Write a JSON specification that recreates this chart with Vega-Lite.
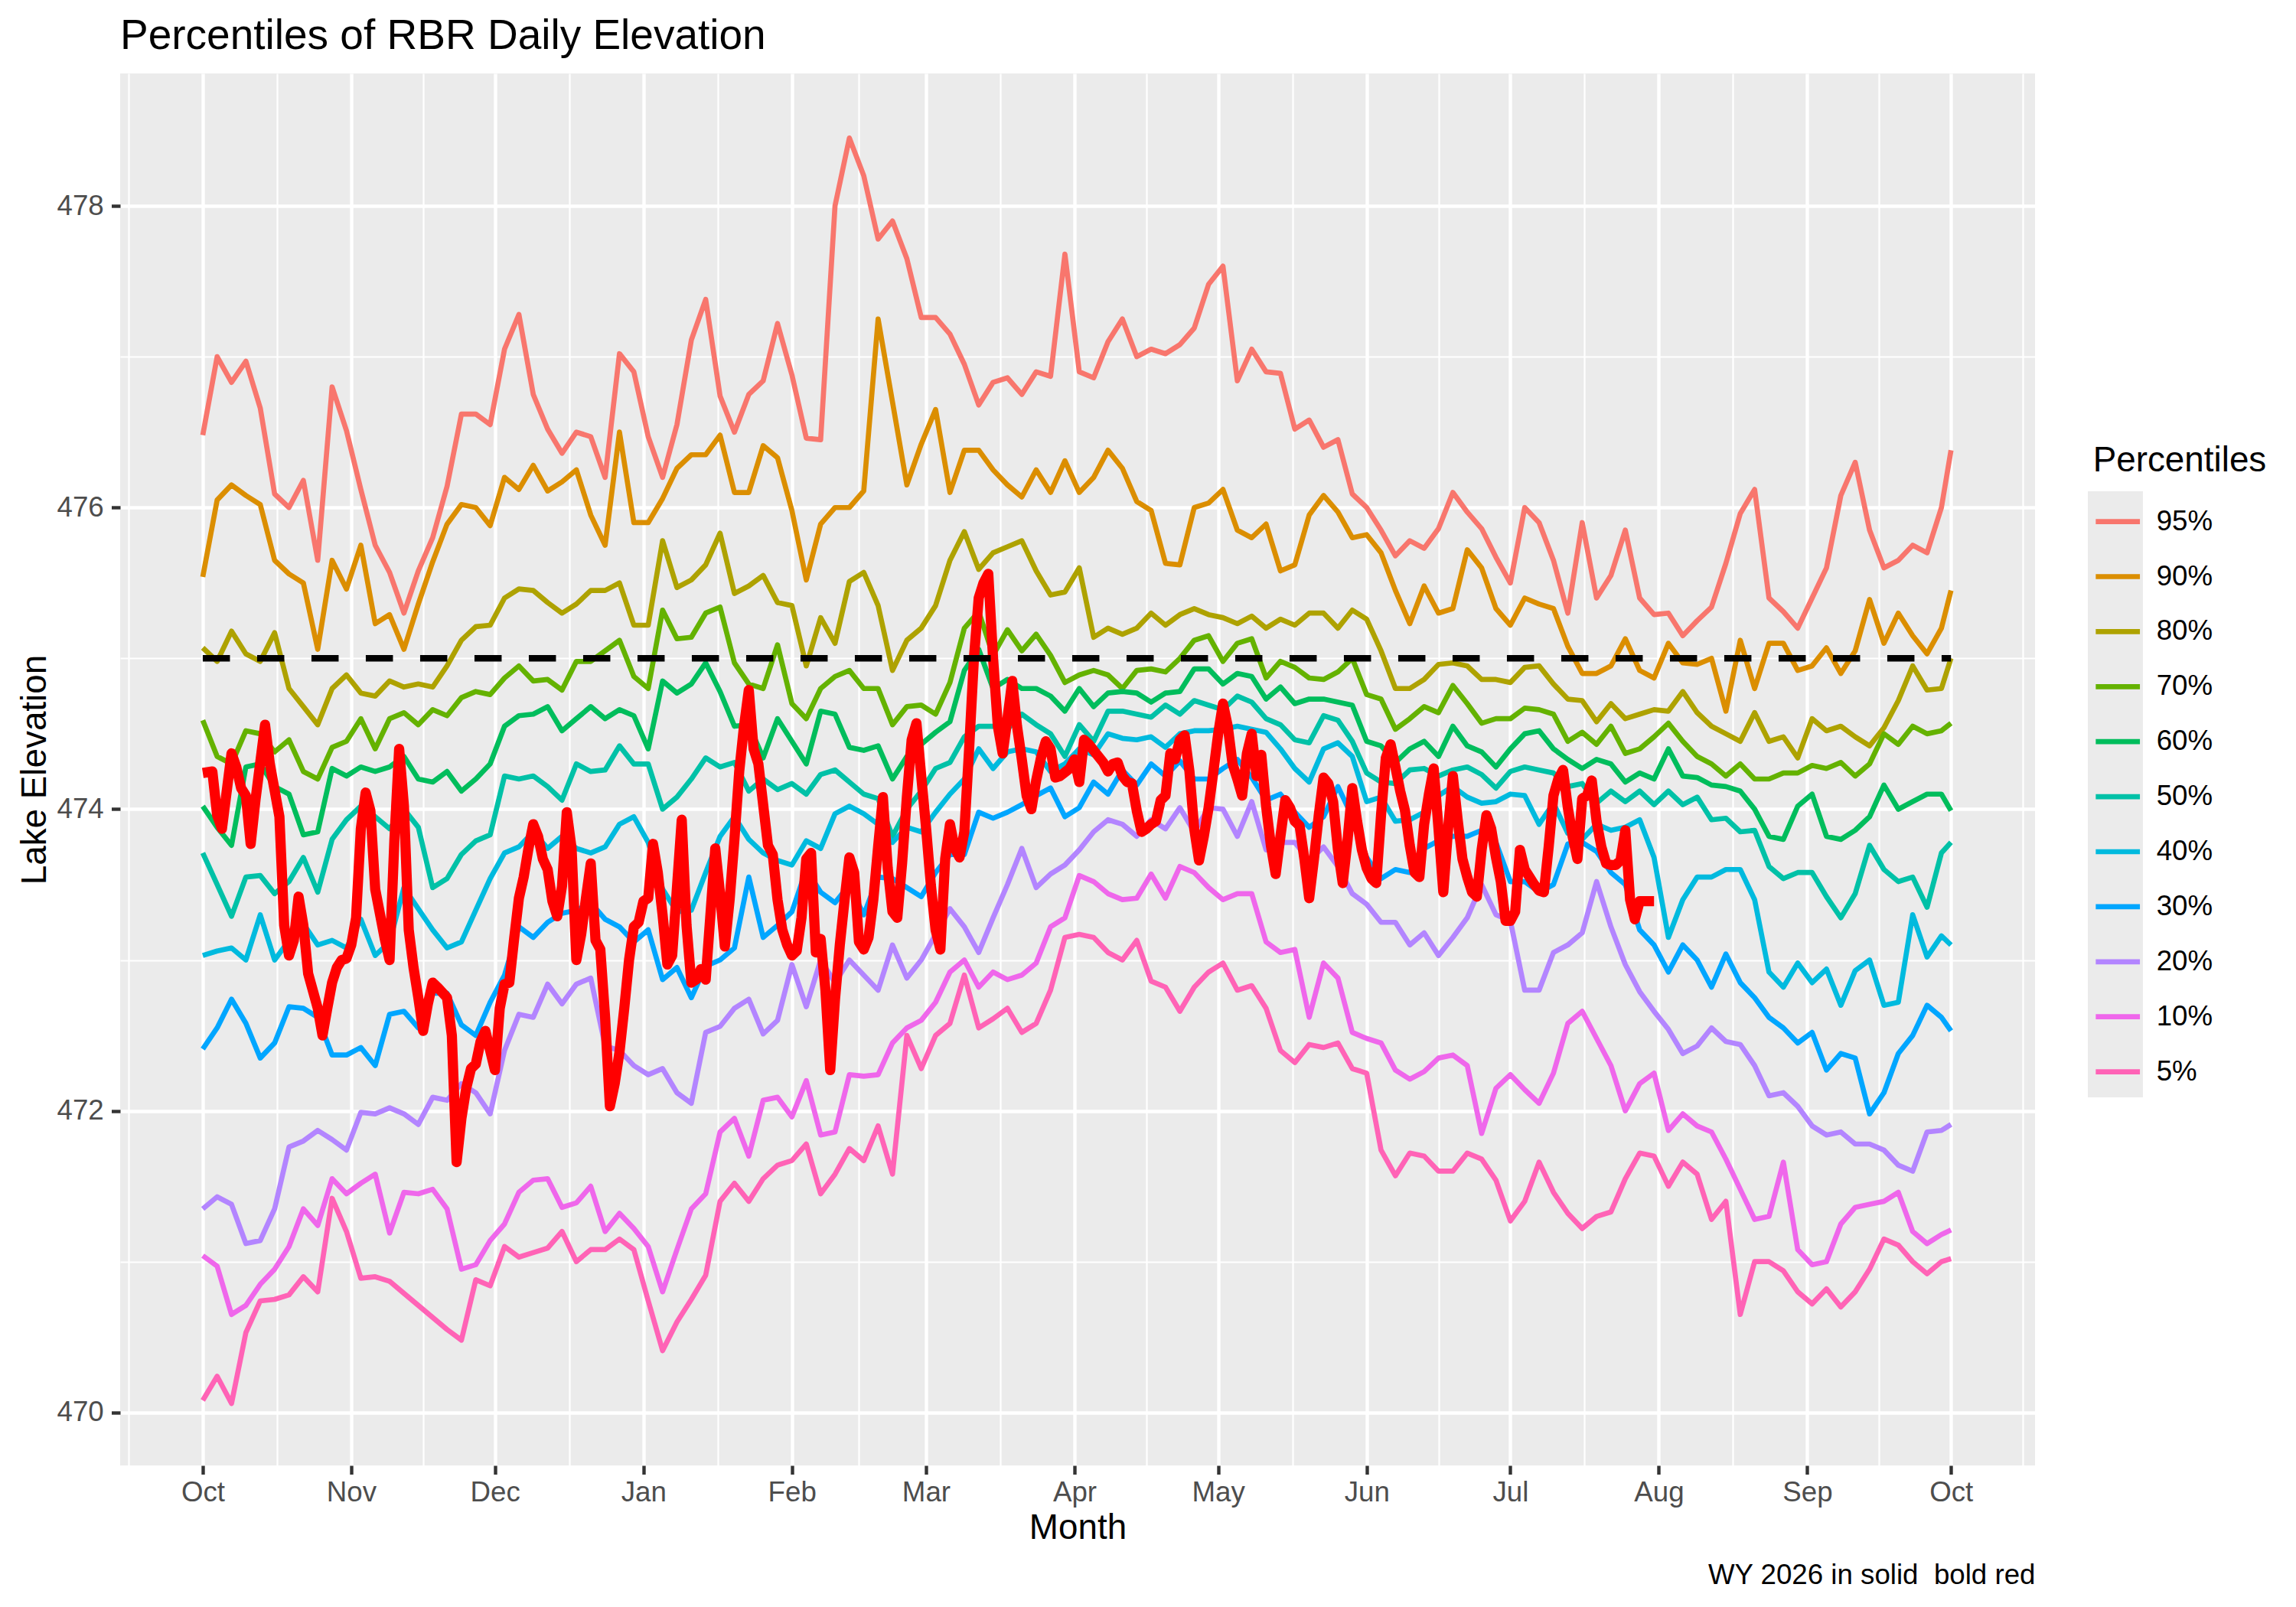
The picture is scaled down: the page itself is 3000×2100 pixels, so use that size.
{
"$schema":"https://vega.github.io/schema/vega-lite/v6.json",
"width":2502,"height":1819,
"autosize":{"type":"none"},
"padding":{"left":157,"top":96,"right":341,"bottom":185},
"background":"#FFFFFF",
"config":{
"font":"Liberation Sans",
"view":{"fill":"#EBEBEB","stroke":null},
"axis":{"domain":false,"labelFont":"Liberation Sans","titleFont":"Liberation Sans","labelFontSize":36.7,"labelColor":"#4D4D4D","tickColor":"#333333","tickWidth":4.4,"tickSize":11.5,"gridColor":"#FFFFFF","titleFontWeight":"normal","titleColor":"#000000","titleFontSize":45.8,"labelFlush":false,"labelOverlap":false,"labelBound":false}
},
"title":{"text":"Percentiles of RBR Daily Elevation","anchor":"start","frame":"group","baseline":"alphabetic","offset":33.5,"dy":56,"fontSize":55,"fontWeight":"normal","color":"#000000","font":"Liberation Sans"},
"datasets":{
"pct":[
{"date":"2025-10-01","95%":476.48,"90%":475.54,"80%":475.07,"70%":474.59,"60%":474.02,"50%":473.71,"40%":473.03,"30%":472.41,"20%":471.35,"10%":471.04,"5%":470.08},
{"date":"2025-10-04","95%":477.00,"90%":476.05,"80%":474.98,"70%":474.35,"60%":473.88,"50%":473.50,"40%":473.06,"30%":472.55,"20%":471.43,"10%":470.97,"5%":470.24},
{"date":"2025-10-07","95%":476.83,"90%":476.15,"80%":475.18,"70%":474.30,"60%":473.76,"50%":473.29,"40%":473.08,"30%":472.74,"20%":471.38,"10%":470.65,"5%":470.06},
{"date":"2025-10-10","95%":476.97,"90%":476.08,"80%":475.03,"70%":474.52,"60%":474.28,"50%":473.55,"40%":473.00,"30%":472.58,"20%":471.12,"10%":470.71,"5%":470.53},
{"date":"2025-10-13","95%":476.66,"90%":476.02,"80%":474.98,"70%":474.50,"60%":474.30,"50%":473.56,"40%":473.30,"30%":472.35,"20%":471.14,"10%":470.85,"5%":470.74},
{"date":"2025-10-16","95%":476.09,"90%":475.65,"80%":475.17,"70%":474.38,"60%":474.15,"50%":473.44,"40%":473.00,"30%":472.45,"20%":471.35,"10%":470.95,"5%":470.75},
{"date":"2025-10-19","95%":476.00,"90%":475.56,"80%":474.80,"70%":474.46,"60%":474.10,"50%":473.52,"40%":473.13,"30%":472.69,"20%":471.76,"10%":471.10,"5%":470.78},
{"date":"2025-10-22","95%":476.18,"90%":475.50,"80%":474.68,"70%":474.25,"60%":473.83,"50%":473.68,"40%":473.24,"30%":472.68,"20%":471.80,"10%":471.35,"5%":470.90},
{"date":"2025-10-25","95%":475.65,"90%":475.06,"80%":474.56,"70%":474.20,"60%":473.85,"50%":473.45,"40%":473.10,"30%":472.62,"20%":471.87,"10%":471.24,"5%":470.80},
{"date":"2025-10-28","95%":476.80,"90%":475.65,"80%":474.80,"70%":474.41,"60%":474.27,"50%":473.80,"40%":473.13,"30%":472.37,"20%":471.81,"10%":471.55,"5%":471.42},
{"date":"2025-10-31","95%":476.51,"90%":475.46,"80%":474.89,"70%":474.45,"60%":474.22,"50%":473.93,"40%":473.08,"30%":472.37,"20%":471.74,"10%":471.45,"5%":471.20},
{"date":"2025-11-03","95%":476.12,"90%":475.75,"80%":474.77,"70%":474.60,"60%":474.28,"50%":474.02,"40%":473.27,"30%":472.42,"20%":471.99,"10%":471.52,"5%":470.89},
{"date":"2025-11-06","95%":475.75,"90%":475.23,"80%":474.75,"70%":474.40,"60%":474.25,"50%":473.95,"40%":473.03,"30%":472.30,"20%":471.98,"10%":471.58,"5%":470.90},
{"date":"2025-11-09","95%":475.57,"90%":475.29,"80%":474.85,"70%":474.60,"60%":474.28,"50%":473.87,"40%":473.12,"30%":472.64,"20%":472.02,"10%":471.19,"5%":470.87},
{"date":"2025-11-12","95%":475.30,"90%":475.06,"80%":474.81,"70%":474.64,"60%":474.35,"50%":474.00,"40%":473.48,"30%":472.66,"20%":471.98,"10%":471.46,"5%":470.79},
{"date":"2025-11-15","95%":475.58,"90%":475.36,"80%":474.83,"70%":474.56,"60%":474.20,"50%":473.88,"40%":473.34,"30%":472.55,"20%":471.91,"10%":471.45,"5%":470.71},
{"date":"2025-11-18","95%":475.80,"90%":475.64,"80%":474.81,"70%":474.66,"60%":474.18,"50%":473.48,"40%":473.20,"30%":472.78,"20%":472.09,"10%":471.48,"5%":470.63},
{"date":"2025-11-21","95%":476.14,"90%":475.89,"80%":474.95,"70%":474.62,"60%":474.25,"50%":473.54,"40%":473.08,"30%":472.78,"20%":472.07,"10%":471.35,"5%":470.55},
{"date":"2025-11-24","95%":476.62,"90%":476.02,"80%":475.12,"70%":474.74,"60%":474.12,"50%":473.70,"40%":473.12,"30%":472.57,"20%":472.18,"10%":470.95,"5%":470.48},
{"date":"2025-11-27","95%":476.62,"90%":476.00,"80%":475.21,"70%":474.78,"60%":474.20,"50%":473.79,"40%":473.33,"30%":472.50,"20%":472.12,"10%":470.98,"5%":470.88},
{"date":"2025-11-30","95%":476.55,"90%":475.88,"80%":475.22,"70%":474.76,"60%":474.30,"50%":473.83,"40%":473.54,"30%":472.72,"20%":471.98,"10%":471.14,"5%":470.84},
{"date":"2025-12-03","95%":477.05,"90%":476.20,"80%":475.40,"70%":474.87,"60%":474.55,"50%":474.22,"40%":473.71,"30%":472.90,"20%":472.40,"10%":471.25,"5%":471.10},
{"date":"2025-12-06","95%":477.28,"90%":476.12,"80%":475.46,"70%":474.95,"60%":474.62,"50%":474.20,"40%":473.75,"30%":473.22,"20%":472.64,"10%":471.46,"5%":471.03},
{"date":"2025-12-09","95%":476.75,"90%":476.28,"80%":475.45,"70%":474.85,"60%":474.63,"50%":474.22,"40%":473.85,"30%":473.15,"20%":472.62,"10%":471.54,"5%":471.06},
{"date":"2025-12-12","95%":476.52,"90%":476.11,"80%":475.37,"70%":474.86,"60%":474.68,"50%":474.15,"40%":473.74,"30%":473.25,"20%":472.84,"10%":471.55,"5%":471.09},
{"date":"2025-12-15","95%":476.36,"90%":476.17,"80%":475.30,"70%":474.79,"60%":474.52,"50%":474.06,"40%":473.82,"30%":473.31,"20%":472.71,"10%":471.36,"5%":471.20},
{"date":"2025-12-18","95%":476.50,"90%":476.25,"80%":475.36,"70%":474.98,"60%":474.60,"50%":474.30,"40%":473.74,"30%":473.33,"20%":472.84,"10%":471.39,"5%":471.00},
{"date":"2025-12-21","95%":476.47,"90%":475.95,"80%":475.45,"70%":474.98,"60%":474.68,"50%":474.25,"40%":473.71,"30%":473.38,"20%":472.88,"10%":471.50,"5%":471.08},
{"date":"2025-12-24","95%":476.20,"90%":475.75,"80%":475.45,"70%":475.05,"60%":474.60,"50%":474.26,"40%":473.75,"30%":473.27,"20%":472.43,"10%":471.20,"5%":471.08},
{"date":"2025-12-27","95%":477.02,"90%":476.50,"80%":475.50,"70%":475.12,"60%":474.66,"50%":474.42,"40%":473.90,"30%":473.22,"20%":472.40,"10%":471.32,"5%":471.15},
{"date":"2025-12-30","95%":476.90,"90%":475.90,"80%":475.22,"70%":474.88,"60%":474.62,"50%":474.30,"40%":473.95,"30%":473.12,"20%":472.30,"10%":471.22,"5%":471.08},
{"date":"2026-01-02","95%":476.47,"90%":475.90,"80%":475.22,"70%":474.80,"60%":474.40,"50%":474.30,"40%":473.78,"30%":473.20,"20%":472.24,"10%":471.10,"5%":470.74},
{"date":"2026-01-05","95%":476.20,"90%":476.06,"80%":475.78,"70%":475.32,"60%":474.85,"50%":474.00,"40%":473.47,"30%":472.87,"20%":472.28,"10%":470.80,"5%":470.41},
{"date":"2026-01-08","95%":476.55,"90%":476.26,"80%":475.47,"70%":475.13,"60%":474.77,"50%":474.08,"40%":473.32,"30%":472.95,"20%":472.12,"10%":471.08,"5%":470.60},
{"date":"2026-01-11","95%":477.11,"90%":476.35,"80%":475.52,"70%":475.14,"60%":474.83,"50%":474.20,"40%":473.33,"30%":472.75,"20%":472.05,"10%":471.35,"5%":470.75},
{"date":"2026-01-14","95%":477.38,"90%":476.35,"80%":475.62,"70%":475.30,"60%":474.97,"50%":474.34,"40%":473.58,"30%":472.96,"20%":472.52,"10%":471.45,"5%":470.91},
{"date":"2026-01-17","95%":476.74,"90%":476.48,"80%":475.83,"70%":475.34,"60%":474.78,"50%":474.28,"40%":473.82,"30%":473.00,"20%":472.56,"10%":471.86,"5%":471.40},
{"date":"2026-01-20","95%":476.50,"90%":476.10,"80%":475.43,"70%":474.97,"60%":474.55,"50%":474.31,"40%":473.95,"30%":473.08,"20%":472.68,"10%":471.95,"5%":471.52},
{"date":"2026-01-23","95%":476.75,"90%":476.10,"80%":475.48,"70%":474.83,"60%":474.56,"50%":474.12,"40%":473.80,"30%":473.55,"20%":472.74,"10%":471.70,"5%":471.40},
{"date":"2026-01-26","95%":476.84,"90%":476.41,"80%":475.55,"70%":474.80,"60%":474.34,"50%":474.20,"40%":473.71,"30%":473.15,"20%":472.51,"10%":472.07,"5%":471.55},
{"date":"2026-01-29","95%":477.22,"90%":476.33,"80%":475.37,"70%":475.09,"60%":474.60,"50%":474.13,"40%":473.66,"30%":473.23,"20%":472.60,"10%":472.09,"5%":471.64},
{"date":"2026-02-01","95%":476.88,"90%":475.98,"80%":475.35,"70%":474.70,"60%":474.45,"50%":474.17,"40%":473.63,"30%":473.32,"20%":472.97,"10%":471.96,"5%":471.67},
{"date":"2026-02-04","95%":476.46,"90%":475.52,"80%":474.95,"70%":474.60,"60%":474.30,"50%":474.10,"40%":473.79,"30%":473.60,"20%":472.69,"10%":472.20,"5%":471.78},
{"date":"2026-02-07","95%":476.45,"90%":475.89,"80%":475.27,"70%":474.80,"60%":474.65,"50%":474.23,"40%":473.74,"30%":473.45,"20%":473.00,"10%":471.84,"5%":471.45},
{"date":"2026-02-10","95%":478.00,"90%":476.00,"80%":475.10,"70%":474.88,"60%":474.63,"50%":474.26,"40%":473.97,"30%":473.38,"20%":472.85,"10%":471.86,"5%":471.58},
{"date":"2026-02-13","95%":478.45,"90%":476.00,"80%":475.51,"70%":474.92,"60%":474.41,"50%":474.18,"40%":474.02,"30%":473.50,"20%":473.00,"10%":472.24,"5%":471.75},
{"date":"2026-02-16","95%":478.20,"90%":476.11,"80%":475.57,"70%":474.80,"60%":474.39,"50%":474.10,"40%":473.97,"30%":473.30,"20%":472.90,"10%":472.23,"5%":471.67},
{"date":"2026-02-19","95%":477.78,"90%":477.25,"80%":475.35,"70%":474.80,"60%":474.42,"50%":474.07,"40%":473.90,"30%":473.55,"20%":472.80,"10%":472.24,"5%":471.90},
{"date":"2026-02-22","95%":477.90,"90%":476.70,"80%":474.92,"70%":474.56,"60%":474.20,"50%":473.82,"40%":473.78,"30%":473.54,"20%":473.10,"10%":472.45,"5%":471.58},
{"date":"2026-02-25","95%":477.65,"90%":476.15,"80%":475.12,"70%":474.68,"60%":474.35,"50%":474.00,"40%":473.88,"30%":473.48,"20%":472.88,"10%":472.55,"5%":472.50},
{"date":"2026-02-28","95%":477.26,"90%":476.42,"80%":475.20,"70%":474.69,"60%":474.43,"50%":474.12,"40%":473.85,"30%":473.42,"20%":473.00,"10%":472.60,"5%":472.28},
{"date":"2026-03-03","95%":477.26,"90%":476.65,"80%":475.35,"70%":474.63,"60%":474.51,"50%":474.27,"40%":473.98,"30%":473.58,"20%":473.17,"10%":472.72,"5%":472.50},
{"date":"2026-03-06","95%":477.15,"90%":476.10,"80%":475.65,"70%":474.84,"60%":474.58,"50%":474.31,"40%":474.10,"30%":473.70,"20%":473.34,"10%":472.92,"5%":472.58},
{"date":"2026-03-09","95%":476.95,"90%":476.38,"80%":475.84,"70%":475.20,"60%":474.92,"50%":474.48,"40%":474.20,"30%":473.70,"20%":473.22,"10%":473.00,"5%":472.90},
{"date":"2026-03-12","95%":476.68,"90%":476.38,"80%":475.59,"70%":475.31,"60%":475.06,"50%":474.55,"40%":474.40,"30%":473.98,"20%":473.05,"10%":472.82,"5%":472.55},
{"date":"2026-03-15","95%":476.83,"90%":476.25,"80%":475.70,"70%":475.02,"60%":474.80,"50%":474.55,"40%":474.27,"30%":473.94,"20%":473.28,"10%":472.92,"5%":472.61},
{"date":"2026-03-18","95%":476.86,"90%":476.15,"80%":475.74,"70%":475.19,"60%":474.86,"50%":474.53,"40%":474.38,"30%":473.98,"20%":473.50,"10%":472.87,"5%":472.68},
{"date":"2026-03-21","95%":476.75,"90%":476.07,"80%":475.78,"70%":475.05,"60%":474.80,"50%":474.63,"40%":474.40,"30%":474.03,"20%":473.74,"10%":472.90,"5%":472.52},
{"date":"2026-03-24","95%":476.90,"90%":476.25,"80%":475.58,"70%":475.16,"60%":474.80,"50%":474.56,"40%":474.38,"30%":474.09,"20%":473.48,"10%":472.98,"5%":472.58},
{"date":"2026-03-27","95%":476.87,"90%":476.10,"80%":475.42,"70%":475.02,"60%":474.75,"50%":474.50,"40%":474.25,"30%":474.14,"20%":473.57,"10%":473.22,"5%":472.80},
{"date":"2026-03-30","95%":477.68,"90%":476.31,"80%":475.44,"70%":474.84,"60%":474.65,"50%":474.35,"40%":474.30,"30%":473.95,"20%":473.63,"10%":473.28,"5%":473.15},
{"date":"2026-04-02","95%":476.90,"90%":476.10,"80%":475.60,"70%":474.89,"60%":474.80,"50%":474.56,"40%":474.40,"30%":474.01,"20%":473.73,"10%":473.56,"5%":473.17},
{"date":"2026-04-05","95%":476.86,"90%":476.20,"80%":475.14,"70%":474.92,"60%":474.68,"50%":474.45,"40%":474.36,"30%":474.18,"20%":473.85,"10%":473.52,"5%":473.15},
{"date":"2026-04-08","95%":477.10,"90%":476.38,"80%":475.20,"70%":474.89,"60%":474.77,"50%":474.65,"40%":474.50,"30%":474.10,"20%":473.93,"10%":473.44,"5%":473.05},
{"date":"2026-04-11","95%":477.25,"90%":476.26,"80%":475.16,"70%":474.80,"60%":474.78,"50%":474.65,"40%":474.47,"30%":474.26,"20%":473.90,"10%":473.40,"5%":473.00},
{"date":"2026-04-14","95%":477.00,"90%":476.04,"80%":475.20,"70%":474.92,"60%":474.77,"50%":474.63,"40%":474.46,"30%":474.16,"20%":473.82,"10%":473.41,"5%":473.13},
{"date":"2026-04-17","95%":477.05,"90%":475.98,"80%":475.30,"70%":474.93,"60%":474.71,"50%":474.61,"40%":474.48,"30%":474.30,"20%":473.93,"10%":473.57,"5%":472.86},
{"date":"2026-04-20","95%":477.02,"90%":475.63,"80%":475.22,"70%":474.91,"60%":474.77,"50%":474.69,"40%":474.41,"30%":474.22,"20%":473.87,"10%":473.41,"5%":472.82},
{"date":"2026-04-23","95%":477.08,"90%":475.62,"80%":475.29,"70%":475.00,"60%":474.78,"50%":474.63,"40%":474.50,"30%":474.32,"20%":474.01,"10%":473.62,"5%":472.66},
{"date":"2026-04-26","95%":477.19,"90%":476.00,"80%":475.33,"70%":475.12,"60%":474.93,"50%":474.72,"40%":474.52,"30%":474.20,"20%":473.85,"10%":473.58,"5%":472.82},
{"date":"2026-04-29","95%":477.48,"90%":476.03,"80%":475.29,"70%":475.15,"60%":474.93,"50%":474.69,"40%":474.52,"30%":474.20,"20%":474.01,"10%":473.48,"5%":472.92},
{"date":"2026-05-02","95%":477.60,"90%":476.12,"80%":475.27,"70%":474.98,"60%":474.83,"50%":474.66,"40%":474.53,"30%":474.27,"20%":474.00,"10%":473.40,"5%":472.98},
{"date":"2026-05-05","95%":476.84,"90%":475.85,"80%":475.23,"70%":475.10,"60%":474.90,"50%":474.75,"40%":474.55,"30%":474.33,"20%":473.82,"10%":473.44,"5%":472.80},
{"date":"2026-05-08","95%":477.05,"90%":475.80,"80%":475.28,"70%":475.13,"60%":474.88,"50%":474.71,"40%":474.53,"30%":474.21,"20%":474.05,"10%":473.44,"5%":472.83},
{"date":"2026-05-11","95%":476.90,"90%":475.89,"80%":475.20,"70%":474.87,"60%":474.73,"50%":474.60,"40%":474.51,"30%":474.06,"20%":473.73,"10%":473.12,"5%":472.68},
{"date":"2026-05-14","95%":476.89,"90%":475.58,"80%":475.26,"70%":474.98,"60%":474.81,"50%":474.56,"40%":474.40,"30%":474.10,"20%":473.78,"10%":473.05,"5%":472.40},
{"date":"2026-05-17","95%":476.52,"90%":475.62,"80%":475.22,"70%":474.94,"60%":474.70,"50%":474.46,"40%":474.27,"30%":473.98,"20%":473.78,"10%":473.07,"5%":472.32},
{"date":"2026-05-20","95%":476.58,"90%":475.95,"80%":475.30,"70%":474.87,"60%":474.73,"50%":474.44,"40%":474.18,"30%":473.88,"20%":473.66,"10%":472.62,"5%":472.44},
{"date":"2026-05-23","95%":476.40,"90%":476.08,"80%":475.30,"70%":474.86,"60%":474.73,"50%":474.62,"40%":474.40,"30%":473.95,"20%":473.75,"10%":472.98,"5%":472.42},
{"date":"2026-05-26","95%":476.45,"90%":475.97,"80%":475.20,"70%":474.91,"60%":474.71,"50%":474.59,"40%":474.44,"30%":474.15,"20%":473.62,"10%":472.88,"5%":472.45},
{"date":"2026-05-29","95%":476.09,"90%":475.80,"80%":475.32,"70%":475.00,"60%":474.69,"50%":474.45,"40%":474.35,"30%":473.95,"20%":473.44,"10%":472.52,"5%":472.28},
{"date":"2026-06-01","95%":476.00,"90%":475.82,"80%":475.26,"70%":474.76,"60%":474.45,"50%":474.24,"40%":474.05,"30%":473.68,"20%":473.37,"10%":472.48,"5%":472.25},
{"date":"2026-06-04","95%":475.85,"90%":475.70,"80%":475.05,"70%":474.73,"60%":474.42,"50%":474.18,"40%":474.08,"30%":473.54,"20%":473.25,"10%":472.45,"5%":471.74},
{"date":"2026-06-07","95%":475.68,"90%":475.45,"80%":474.80,"70%":474.53,"60%":474.31,"50%":474.17,"40%":473.92,"30%":473.60,"20%":473.25,"10%":472.27,"5%":471.57},
{"date":"2026-06-10","95%":475.78,"90%":475.23,"80%":474.80,"70%":474.60,"60%":474.40,"50%":474.26,"40%":473.93,"30%":473.58,"20%":473.10,"10%":472.21,"5%":471.72},
{"date":"2026-06-13","95%":475.73,"90%":475.48,"80%":474.86,"70%":474.68,"60%":474.45,"50%":474.27,"40%":473.98,"30%":473.74,"20%":473.18,"10%":472.26,"5%":471.70},
{"date":"2026-06-16","95%":475.86,"90%":475.30,"80%":474.96,"70%":474.64,"60%":474.35,"50%":474.22,"40%":474.09,"30%":473.79,"20%":473.03,"10%":472.35,"5%":471.60},
{"date":"2026-06-19","95%":476.10,"90%":475.33,"80%":474.97,"70%":474.82,"60%":474.55,"50%":474.26,"40%":474.15,"30%":473.82,"20%":473.15,"10%":472.37,"5%":471.60},
{"date":"2026-06-22","95%":475.97,"90%":475.72,"80%":474.95,"70%":474.70,"60%":474.42,"50%":474.28,"40%":474.08,"30%":473.82,"20%":473.28,"10%":472.30,"5%":471.72},
{"date":"2026-06-25","95%":475.86,"90%":475.60,"80%":474.86,"70%":474.57,"60%":474.38,"50%":474.23,"40%":474.04,"30%":473.86,"20%":473.50,"10%":471.85,"5%":471.68},
{"date":"2026-06-28","95%":475.67,"90%":475.33,"80%":474.86,"70%":474.60,"60%":474.28,"50%":474.14,"40%":474.05,"30%":473.78,"20%":473.30,"10%":472.15,"5%":471.54},
{"date":"2026-07-01","95%":475.50,"90%":475.22,"80%":474.84,"70%":474.60,"60%":474.40,"50%":474.25,"40%":474.10,"30%":473.52,"20%":473.26,"10%":472.24,"5%":471.27},
{"date":"2026-07-04","95%":476.00,"90%":475.40,"80%":474.94,"70%":474.67,"60%":474.50,"50%":474.28,"40%":474.09,"30%":473.52,"20%":472.80,"10%":472.14,"5%":471.40},
{"date":"2026-07-07","95%":475.90,"90%":475.36,"80%":474.95,"70%":474.66,"60%":474.52,"50%":474.26,"40%":473.90,"30%":473.45,"20%":472.80,"10%":472.05,"5%":471.66},
{"date":"2026-07-10","95%":475.65,"90%":475.33,"80%":474.83,"70%":474.63,"60%":474.40,"50%":474.24,"40%":474.04,"30%":473.50,"20%":473.05,"10%":472.25,"5%":471.46},
{"date":"2026-07-13","95%":475.30,"90%":475.08,"80%":474.73,"70%":474.45,"60%":474.33,"50%":474.15,"40%":473.84,"30%":473.77,"20%":473.10,"10%":472.58,"5%":471.32},
{"date":"2026-07-16","95%":475.90,"90%":474.90,"80%":474.72,"70%":474.51,"60%":474.27,"50%":474.17,"40%":473.80,"30%":473.78,"20%":473.18,"10%":472.66,"5%":471.22},
{"date":"2026-07-19","95%":475.40,"90%":474.90,"80%":474.58,"70%":474.43,"60%":474.33,"50%":474.04,"40%":473.90,"30%":473.72,"20%":473.52,"10%":472.48,"5%":471.30},
{"date":"2026-07-22","95%":475.55,"90%":474.95,"80%":474.70,"70%":474.55,"60%":474.30,"50%":474.12,"40%":473.86,"30%":473.58,"20%":473.22,"10%":472.30,"5%":471.33},
{"date":"2026-07-25","95%":475.85,"90%":475.13,"80%":474.60,"70%":474.37,"60%":474.18,"50%":474.05,"40%":473.88,"30%":473.50,"20%":472.97,"10%":472.00,"5%":471.55},
{"date":"2026-07-28","95%":475.40,"90%":474.92,"80%":474.63,"70%":474.40,"60%":474.24,"50%":474.12,"40%":473.93,"30%":473.20,"20%":472.79,"10%":472.18,"5%":471.72},
{"date":"2026-07-31","95%":475.29,"90%":474.87,"80%":474.66,"70%":474.48,"60%":474.20,"50%":474.03,"40%":473.68,"30%":473.10,"20%":472.66,"10%":472.25,"5%":471.70},
{"date":"2026-08-03","95%":475.30,"90%":475.10,"80%":474.65,"70%":474.57,"60%":474.40,"50%":474.12,"40%":473.15,"30%":472.92,"20%":472.54,"10%":471.87,"5%":471.50},
{"date":"2026-08-06","95%":475.15,"90%":474.97,"80%":474.78,"70%":474.45,"60%":474.22,"50%":474.03,"40%":473.40,"30%":473.10,"20%":472.38,"10%":471.98,"5%":471.66},
{"date":"2026-08-09","95%":475.25,"90%":474.96,"80%":474.64,"70%":474.35,"60%":474.21,"50%":474.08,"40%":473.55,"30%":473.00,"20%":472.43,"10%":471.90,"5%":471.58},
{"date":"2026-08-12","95%":475.34,"90%":475.00,"80%":474.55,"70%":474.30,"60%":474.16,"50%":473.93,"40%":473.55,"30%":472.82,"20%":472.55,"10%":471.86,"5%":471.28},
{"date":"2026-08-15","95%":475.63,"90%":474.65,"80%":474.50,"70%":474.22,"60%":474.15,"50%":473.94,"40%":473.60,"30%":473.04,"20%":472.46,"10%":471.68,"5%":471.40},
{"date":"2026-08-18","95%":475.96,"90%":475.12,"80%":474.45,"70%":474.30,"60%":474.12,"50%":473.85,"40%":473.60,"30%":472.85,"20%":472.44,"10%":471.48,"5%":470.65},
{"date":"2026-08-21","95%":476.12,"90%":474.80,"80%":474.64,"70%":474.20,"60%":474.00,"50%":473.86,"40%":473.40,"30%":472.75,"20%":472.30,"10%":471.28,"5%":471.00},
{"date":"2026-08-24","95%":475.40,"90%":475.10,"80%":474.45,"70%":474.20,"60%":473.82,"50%":473.62,"40%":472.92,"30%":472.62,"20%":472.10,"10%":471.30,"5%":471.00},
{"date":"2026-08-27","95%":475.31,"90%":475.10,"80%":474.48,"70%":474.24,"60%":473.80,"50%":473.54,"40%":472.82,"30%":472.55,"20%":472.12,"10%":471.66,"5%":470.94},
{"date":"2026-08-30","95%":475.20,"90%":474.92,"80%":474.34,"70%":474.24,"60%":474.02,"50%":473.58,"40%":472.98,"30%":472.45,"20%":472.03,"10%":471.08,"5%":470.80},
{"date":"2026-09-02","95%":475.40,"90%":474.95,"80%":474.60,"70%":474.29,"60%":474.10,"50%":473.58,"40%":472.85,"30%":472.52,"20%":471.90,"10%":470.98,"5%":470.72},
{"date":"2026-09-05","95%":475.60,"90%":475.07,"80%":474.52,"70%":474.27,"60%":473.82,"50%":473.42,"40%":472.94,"30%":472.27,"20%":471.84,"10%":471.00,"5%":470.82},
{"date":"2026-09-08","95%":476.08,"90%":474.90,"80%":474.55,"70%":474.31,"60%":473.80,"50%":473.28,"40%":472.70,"30%":472.38,"20%":471.86,"10%":471.25,"5%":470.70},
{"date":"2026-09-11","95%":476.30,"90%":475.05,"80%":474.48,"70%":474.22,"60%":473.86,"50%":473.44,"40%":472.93,"30%":472.35,"20%":471.78,"10%":471.36,"5%":470.80},
{"date":"2026-09-14","95%":475.85,"90%":475.39,"80%":474.42,"70%":474.30,"60%":473.95,"50%":473.76,"40%":473.00,"30%":471.98,"20%":471.78,"10%":471.38,"5%":470.95},
{"date":"2026-09-17","95%":475.60,"90%":475.10,"80%":474.54,"70%":474.50,"60%":474.16,"50%":473.60,"40%":472.70,"30%":472.12,"20%":471.74,"10%":471.40,"5%":471.15},
{"date":"2026-09-20","95%":475.65,"90%":475.30,"80%":474.72,"70%":474.43,"60%":474.00,"50%":473.52,"40%":472.72,"30%":472.38,"20%":471.64,"10%":471.46,"5%":471.11},
{"date":"2026-09-23","95%":475.75,"90%":475.15,"80%":474.95,"70%":474.55,"60%":474.05,"50%":473.55,"40%":473.30,"30%":472.50,"20%":471.60,"10%":471.20,"5%":471.00},
{"date":"2026-09-26","95%":475.70,"90%":475.03,"80%":474.79,"70%":474.50,"60%":474.10,"50%":473.35,"40%":473.02,"30%":472.70,"20%":471.86,"10%":471.12,"5%":470.92},
{"date":"2026-09-29","95%":476.00,"90%":475.20,"80%":474.80,"70%":474.52,"60%":474.10,"50%":473.71,"40%":473.16,"30%":472.62,"20%":471.87,"10%":471.18,"5%":471.00},
{"date":"2026-10-01","95%":476.38,"90%":475.45,"80%":475.00,"70%":474.57,"60%":473.99,"50%":473.78,"40%":473.10,"30%":472.53,"20%":471.91,"10%":471.21,"5%":471.02}
],
"wy":[
{"date":"2025-10-01","elevation":474.24},{"date":"2025-10-03","elevation":474.25},{"date":"2025-10-04","elevation":473.96},{"date":"2025-10-05","elevation":473.87},{"date":"2025-10-07","elevation":474.37},{"date":"2025-10-08","elevation":474.28},{"date":"2025-10-09","elevation":474.14},{"date":"2025-10-10","elevation":474.09},{"date":"2025-10-11","elevation":473.77},{"date":"2025-10-12","elevation":474.06},{"date":"2025-10-14","elevation":474.56},{"date":"2025-10-15","elevation":474.30},{"date":"2025-10-17","elevation":473.95},{"date":"2025-10-18","elevation":473.23},{"date":"2025-10-19","elevation":473.03},{"date":"2025-10-20","elevation":473.13},{"date":"2025-10-21","elevation":473.42},{"date":"2025-10-22","elevation":473.23},{"date":"2025-10-23","elevation":472.91},{"date":"2025-10-25","elevation":472.68},{"date":"2025-10-26","elevation":472.50},{"date":"2025-10-27","elevation":472.68},{"date":"2025-10-28","elevation":472.85},{"date":"2025-10-29","elevation":472.95},{"date":"2025-10-30","elevation":473.00},{"date":"2025-10-31","elevation":473.01},
{"date":"2025-11-01","elevation":473.10},{"date":"2025-11-02","elevation":473.28},{"date":"2025-11-03","elevation":473.87},{"date":"2025-11-04","elevation":474.11},{"date":"2025-11-05","elevation":473.99},{"date":"2025-11-06","elevation":473.47},{"date":"2025-11-08","elevation":473.14},{"date":"2025-11-09","elevation":473.00},{"date":"2025-11-10","elevation":473.79},{"date":"2025-11-11","elevation":474.40},{"date":"2025-11-12","elevation":474.02},{"date":"2025-11-13","elevation":473.20},{"date":"2025-11-14","elevation":472.95},{"date":"2025-11-15","elevation":472.75},{"date":"2025-11-16","elevation":472.53},{"date":"2025-11-17","elevation":472.71},{"date":"2025-11-18","elevation":472.85},{"date":"2025-11-19","elevation":472.82},{"date":"2025-11-21","elevation":472.75},{"date":"2025-11-22","elevation":472.50},{"date":"2025-11-23","elevation":471.66},{"date":"2025-11-24","elevation":471.95},{"date":"2025-11-25","elevation":472.15},{"date":"2025-11-26","elevation":472.28},{"date":"2025-11-27","elevation":472.31},{"date":"2025-11-28","elevation":472.46},{"date":"2025-11-29","elevation":472.53},{"date":"2025-11-30","elevation":472.40},
{"date":"2025-12-01","elevation":472.27},{"date":"2025-12-02","elevation":472.68},{"date":"2025-12-03","elevation":472.84},{"date":"2025-12-04","elevation":472.85},{"date":"2025-12-05","elevation":473.14},{"date":"2025-12-06","elevation":473.41},{"date":"2025-12-07","elevation":473.55},{"date":"2025-12-08","elevation":473.74},{"date":"2025-12-09","elevation":473.90},{"date":"2025-12-10","elevation":473.82},{"date":"2025-12-11","elevation":473.67},{"date":"2025-12-12","elevation":473.60},{"date":"2025-12-13","elevation":473.39},{"date":"2025-12-14","elevation":473.29},{"date":"2025-12-15","elevation":473.49},{"date":"2025-12-16","elevation":473.98},{"date":"2025-12-17","elevation":473.74},{"date":"2025-12-18","elevation":473.00},{"date":"2025-12-19","elevation":473.17},{"date":"2025-12-20","elevation":473.41},{"date":"2025-12-21","elevation":473.64},{"date":"2025-12-22","elevation":473.13},{"date":"2025-12-23","elevation":473.07},{"date":"2025-12-24","elevation":472.62},{"date":"2025-12-25","elevation":472.03},{"date":"2025-12-26","elevation":472.18},{"date":"2025-12-27","elevation":472.39},{"date":"2025-12-28","elevation":472.68},{"date":"2025-12-29","elevation":473.00},{"date":"2025-12-30","elevation":473.22},{"date":"2025-12-31","elevation":473.25},
{"date":"2026-01-01","elevation":473.39},{"date":"2026-01-02","elevation":473.41},{"date":"2026-01-03","elevation":473.77},{"date":"2026-01-04","elevation":473.58},{"date":"2026-01-05","elevation":473.30},{"date":"2026-01-06","elevation":472.97},{"date":"2026-01-07","elevation":473.03},{"date":"2026-01-09","elevation":473.93},{"date":"2026-01-10","elevation":473.23},{"date":"2026-01-11","elevation":472.85},{"date":"2026-01-12","elevation":472.87},{"date":"2026-01-13","elevation":472.94},{"date":"2026-01-14","elevation":472.87},{"date":"2026-01-16","elevation":473.74},{"date":"2026-01-17","elevation":473.44},{"date":"2026-01-18","elevation":473.09},{"date":"2026-01-19","elevation":473.40},{"date":"2026-01-20","elevation":473.80},{"date":"2026-01-21","elevation":474.25},{"date":"2026-01-22","elevation":474.55},{"date":"2026-01-23","elevation":474.79},{"date":"2026-01-24","elevation":474.40},{"date":"2026-01-25","elevation":474.30},{"date":"2026-01-27","elevation":473.76},{"date":"2026-01-28","elevation":473.70},{"date":"2026-01-29","elevation":473.40},{"date":"2026-01-30","elevation":473.20},{"date":"2026-01-31","elevation":473.10},
{"date":"2026-02-01","elevation":473.03},{"date":"2026-02-02","elevation":473.06},{"date":"2026-02-03","elevation":473.28},{"date":"2026-02-04","elevation":473.67},{"date":"2026-02-05","elevation":473.71},{"date":"2026-02-06","elevation":473.05},{"date":"2026-02-07","elevation":473.14},{"date":"2026-02-08","elevation":472.80},{"date":"2026-02-09","elevation":472.27},{"date":"2026-02-10","elevation":472.74},{"date":"2026-02-11","elevation":473.10},{"date":"2026-02-12","elevation":473.40},{"date":"2026-02-13","elevation":473.68},{"date":"2026-02-14","elevation":473.58},{"date":"2026-02-15","elevation":473.12},{"date":"2026-02-16","elevation":473.07},{"date":"2026-02-17","elevation":473.15},{"date":"2026-02-18","elevation":473.40},{"date":"2026-02-19","elevation":473.75},{"date":"2026-02-20","elevation":474.08},{"date":"2026-02-21","elevation":473.61},{"date":"2026-02-22","elevation":473.32},{"date":"2026-02-23","elevation":473.28},{"date":"2026-02-24","elevation":473.64},{"date":"2026-02-25","elevation":474.08},{"date":"2026-02-26","elevation":474.46},{"date":"2026-02-27","elevation":474.57},{"date":"2026-02-28","elevation":474.22},
{"date":"2026-03-01","elevation":473.88},{"date":"2026-03-02","elevation":473.50},{"date":"2026-03-03","elevation":473.20},{"date":"2026-03-04","elevation":473.07},{"date":"2026-03-05","elevation":473.67},{"date":"2026-03-06","elevation":473.90},{"date":"2026-03-07","elevation":473.74},{"date":"2026-03-08","elevation":473.68},{"date":"2026-03-09","elevation":473.85},{"date":"2026-03-10","elevation":474.40},{"date":"2026-03-11","elevation":475.00},{"date":"2026-03-12","elevation":475.40},{"date":"2026-03-13","elevation":475.50},{"date":"2026-03-14","elevation":475.56},{"date":"2026-03-15","elevation":475.00},{"date":"2026-03-16","elevation":474.55},{"date":"2026-03-17","elevation":474.37},{"date":"2026-03-18","elevation":474.60},{"date":"2026-03-19","elevation":474.85},{"date":"2026-03-20","elevation":474.55},{"date":"2026-03-21","elevation":474.33},{"date":"2026-03-22","elevation":474.09},{"date":"2026-03-23","elevation":474.00},{"date":"2026-03-24","elevation":474.19},{"date":"2026-03-25","elevation":474.34},{"date":"2026-03-26","elevation":474.45},{"date":"2026-03-27","elevation":474.40},{"date":"2026-03-28","elevation":474.21},{"date":"2026-03-29","elevation":474.22},{"date":"2026-03-31","elevation":474.27},
{"date":"2026-04-01","elevation":474.33},{"date":"2026-04-02","elevation":474.18},{"date":"2026-04-03","elevation":474.46},{"date":"2026-04-04","elevation":474.43},{"date":"2026-04-05","elevation":474.39},{"date":"2026-04-07","elevation":474.31},{"date":"2026-04-08","elevation":474.25},{"date":"2026-04-09","elevation":474.30},{"date":"2026-04-10","elevation":474.31},{"date":"2026-04-11","elevation":474.22},{"date":"2026-04-12","elevation":474.18},{"date":"2026-04-13","elevation":474.17},{"date":"2026-04-14","elevation":473.99},{"date":"2026-04-15","elevation":473.85},{"date":"2026-04-16","elevation":473.87},{"date":"2026-04-17","elevation":473.90},{"date":"2026-04-18","elevation":473.92},{"date":"2026-04-19","elevation":474.06},{"date":"2026-04-20","elevation":474.09},{"date":"2026-04-21","elevation":474.37},{"date":"2026-04-22","elevation":474.33},{"date":"2026-04-23","elevation":474.46},{"date":"2026-04-24","elevation":474.49},{"date":"2026-04-25","elevation":474.25},{"date":"2026-04-26","elevation":473.87},{"date":"2026-04-27","elevation":473.66},{"date":"2026-04-28","elevation":473.82},{"date":"2026-04-29","elevation":474.01},{"date":"2026-04-30","elevation":474.25},
{"date":"2026-05-01","elevation":474.50},{"date":"2026-05-02","elevation":474.70},{"date":"2026-05-03","elevation":474.55},{"date":"2026-05-04","elevation":474.30},{"date":"2026-05-05","elevation":474.20},{"date":"2026-05-06","elevation":474.09},{"date":"2026-05-07","elevation":474.37},{"date":"2026-05-08","elevation":474.50},{"date":"2026-05-09","elevation":474.22},{"date":"2026-05-10","elevation":474.36},{"date":"2026-05-11","elevation":474.02},{"date":"2026-05-12","elevation":473.76},{"date":"2026-05-13","elevation":473.57},{"date":"2026-05-14","elevation":473.82},{"date":"2026-05-15","elevation":474.06},{"date":"2026-05-16","elevation":474.01},{"date":"2026-05-17","elevation":473.92},{"date":"2026-05-18","elevation":473.89},{"date":"2026-05-19","elevation":473.67},{"date":"2026-05-20","elevation":473.41},{"date":"2026-05-21","elevation":473.67},{"date":"2026-05-22","elevation":473.96},{"date":"2026-05-23","elevation":474.21},{"date":"2026-05-24","elevation":474.17},{"date":"2026-05-25","elevation":474.05},{"date":"2026-05-26","elevation":473.73},{"date":"2026-05-27","elevation":473.51},{"date":"2026-05-28","elevation":473.79},{"date":"2026-05-29","elevation":474.14},{"date":"2026-05-30","elevation":473.92},{"date":"2026-05-31","elevation":473.73},
{"date":"2026-06-01","elevation":473.61},{"date":"2026-06-02","elevation":473.54},{"date":"2026-06-03","elevation":473.51},{"date":"2026-06-04","elevation":473.96},{"date":"2026-06-05","elevation":474.34},{"date":"2026-06-06","elevation":474.43},{"date":"2026-06-07","elevation":474.28},{"date":"2026-06-08","elevation":474.12},{"date":"2026-06-09","elevation":473.99},{"date":"2026-06-10","elevation":473.76},{"date":"2026-06-11","elevation":473.58},{"date":"2026-06-12","elevation":473.55},{"date":"2026-06-13","elevation":473.90},{"date":"2026-06-14","elevation":474.10},{"date":"2026-06-15","elevation":474.27},{"date":"2026-06-16","elevation":473.87},{"date":"2026-06-17","elevation":473.45},{"date":"2026-06-18","elevation":473.87},{"date":"2026-06-19","elevation":474.22},{"date":"2026-06-20","elevation":473.93},{"date":"2026-06-21","elevation":473.67},{"date":"2026-06-22","elevation":473.55},{"date":"2026-06-23","elevation":473.45},{"date":"2026-06-24","elevation":473.42},{"date":"2026-06-25","elevation":473.73},{"date":"2026-06-26","elevation":473.96},{"date":"2026-06-27","elevation":473.87},{"date":"2026-06-28","elevation":473.68},{"date":"2026-06-29","elevation":473.52},{"date":"2026-06-30","elevation":473.26},
{"date":"2026-07-01","elevation":473.26},{"date":"2026-07-02","elevation":473.32},{"date":"2026-07-03","elevation":473.73},{"date":"2026-07-04","elevation":473.60},{"date":"2026-07-05","elevation":473.55},{"date":"2026-07-06","elevation":473.50},{"date":"2026-07-07","elevation":473.46},{"date":"2026-07-08","elevation":473.45},{"date":"2026-07-09","elevation":473.75},{"date":"2026-07-10","elevation":474.09},{"date":"2026-07-11","elevation":474.20},{"date":"2026-07-12","elevation":474.26},{"date":"2026-07-13","elevation":474.01},{"date":"2026-07-14","elevation":473.82},{"date":"2026-07-15","elevation":473.67},{"date":"2026-07-16","elevation":474.07},{"date":"2026-07-17","elevation":474.09},{"date":"2026-07-18","elevation":474.19},{"date":"2026-07-19","elevation":473.92},{"date":"2026-07-20","elevation":473.75},{"date":"2026-07-21","elevation":473.64},{"date":"2026-07-22","elevation":473.63},{"date":"2026-07-23","elevation":473.63},{"date":"2026-07-24","elevation":473.66},{"date":"2026-07-25","elevation":473.86},{"date":"2026-07-26","elevation":473.40},{"date":"2026-07-27","elevation":473.27},{"date":"2026-07-28","elevation":473.39},{"date":"2026-07-29","elevation":473.39},{"date":"2026-07-30","elevation":473.39},{"date":"2026-07-31","elevation":473.39}
]
},
"layer":[
{
"data":{"values":[{"key":"k95"}]},
"mark":{"type":"square","opacity":0},
"encoding":{
"fill":{"field":"key","type":"nominal","scale":{"domain":["k95","k90","k80","k70","k60","k50","k40","k30","k20","k10","k5"],"range":["#EBEBEB"]},
"legend":{"orient":"none","legendX":2571,"legendY":546,"direction":"vertical","title":null,"symbolType":"square","symbolSize":5184,"symbolStrokeWidth":0,"symbolOpacity":1,"symbolFillColor":"#EBEBEB","labelExpr":"''","labelFontSize":1,"rowPadding":0,"padding":0,"zindex":1}}
}
},
{
"data":{"name":"pct"},
"transform":[{"fold":["95%","90%","80%","70%","60%","50%","40%","30%","20%","10%","5%"],"as":["Percentile","elevation"]}],
"mark":{"type":"line","strokeWidth":6.7,"strokeJoin":"round","strokeCap":"butt"},
"encoding":{
"x":{"field":"date","type":"temporal","scale":{"type":"utc","nice":false,"domain":[{"year":2025,"month":9,"date":13,"hours":18,"utc":true},{"year":2026,"month":10,"date":18,"hours":13,"utc":true}]},
"axis":{"orient":"bottom","values":[{"year":2025,"month":10,"date":1,"utc":true},{"year":2025,"month":11,"date":1,"utc":true},{"year":2025,"month":12,"date":1,"utc":true},{"year":2026,"month":1,"date":1,"utc":true},{"year":2026,"month":2,"date":1,"utc":true},{"year":2026,"month":3,"date":1,"utc":true},{"year":2026,"month":4,"date":1,"utc":true},{"year":2026,"month":5,"date":1,"utc":true},{"year":2026,"month":6,"date":1,"utc":true},{"year":2026,"month":7,"date":1,"utc":true},{"year":2026,"month":8,"date":1,"utc":true},{"year":2026,"month":9,"date":1,"utc":true},{"year":2026,"month":10,"date":1,"utc":true}],
"format":"%b","grid":true,"gridWidth":4.4,"labelBaseline":"alphabetic","labelAlign":"center","labelPadding":34.5,"title":"Month","titleX":1251,"titleY":95.7,"titleBaseline":"alphabetic","titleAlign":"center"}},
"y":{"field":"elevation","type":"quantitative","scale":{"domain":[469.649,478.878],"nice":false,"zero":false},
"axis":{"orient":"left","values":[470,472,474,476,478],"format":"d","grid":true,"gridWidth":4.4,"labelPadding":10.3,"title":"Lake Elevation","titleX":-98,"titleY":909.5,"titleAngle":-90,"titleBaseline":"alphabetic","titleAlign":"center"}},
"color":{"field":"Percentile","type":"nominal","scale":{"domain":["95%","90%","80%","70%","60%","50%","40%","30%","20%","10%","5%"],"range":["#F8766D","#DB8E00","#AEA200","#64B200","#00BD5C","#00C1A7","#00BADE","#00A6FF","#B385FF","#EF67EB","#FF63B6"]},
"legend":{"orient":"none","legendX":2577.7,"legendY":483.8,"direction":"vertical","title":"Percentiles","titleLimit":1000,"titleFontSize":45.8,"titleFontWeight":"normal","titleColor":"#000000","titleFont":"Liberation Sans","titlePadding":23.5,"labelFontSize":36.7,"labelColor":"#000000","labelFont":"Liberation Sans","labelOffset":18,"symbolType":"stroke","symbolSize":3329,"symbolStrokeWidth":6.7,"rowPadding":19.9,"padding":0,"zindex":2,"labelExpr":"datum.label == '5%' ? '\u00a05%' : datum.label"}}
}
},
{
"data":{"name":"wy"},
"mark":{"type":"line","color":"#FF0000","strokeWidth":13.3,"strokeJoin":"round","strokeCap":"butt"},
"encoding":{
"x":{"field":"date","type":"temporal","scale":{"type":"utc","nice":false,"domain":[{"year":2025,"month":9,"date":13,"hours":18,"utc":true},{"year":2026,"month":10,"date":18,"hours":13,"utc":true}]},
"axis":{"orient":"top","values":[{"year":2025,"month":9,"date":15,"hours":12,"utc":true},{"year":2025,"month":10,"date":16,"hours":12,"utc":true},{"year":2025,"month":11,"date":16,"utc":true},{"year":2025,"month":12,"date":16,"hours":12,"utc":true},{"year":2026,"month":1,"date":16,"hours":12,"utc":true},{"year":2026,"month":2,"date":15,"utc":true},{"year":2026,"month":3,"date":16,"hours":12,"utc":true},{"year":2026,"month":4,"date":16,"utc":true},{"year":2026,"month":5,"date":16,"hours":12,"utc":true},{"year":2026,"month":6,"date":16,"utc":true},{"year":2026,"month":7,"date":16,"hours":12,"utc":true},{"year":2026,"month":8,"date":16,"hours":12,"utc":true},{"year":2026,"month":9,"date":16,"utc":true},{"year":2026,"month":10,"date":16,"utc":true}],
"grid":true,"gridWidth":2.2,"ticks":false,"labels":false,"title":null}},
"y":{"field":"elevation","type":"quantitative","scale":{"domain":[469.649,478.878],"nice":false,"zero":false},
"axis":{"orient":"right","values":[471,473,475,477],"grid":true,"gridWidth":2.2,"ticks":false,"labels":false,"title":"WY 2026 in solid\u00a0 bold red","titleAngle":0,"titleX":0,"titleY":1973.3,"titleAlign":"right","titleBaseline":"alphabetic","titleFontSize":36.7,"titleColor":"#000000","titleLimit":2000}}
}
},
{
"data":{"values":[{}]},
"mark":{"type":"rule","color":"#000000","strokeWidth":8.5,"strokeDash":[35.5,35.5],"strokeCap":"butt"},
"encoding":{
"x":{"datum":{"year":2025,"month":10,"date":1,"utc":true},"type":"temporal","scale":{"type":"utc","nice":false,"domain":[{"year":2025,"month":9,"date":13,"hours":18,"utc":true},{"year":2026,"month":10,"date":18,"hours":13,"utc":true}]},"axis":null},
"x2":{"datum":{"year":2026,"month":10,"date":1,"utc":true}},
"y":{"datum":475,"type":"quantitative","scale":{"domain":[469.649,478.878],"nice":false,"zero":false},"axis":null}
}
}
],
"resolve":{"axis":{"x":"independent","y":"independent"}}
}
